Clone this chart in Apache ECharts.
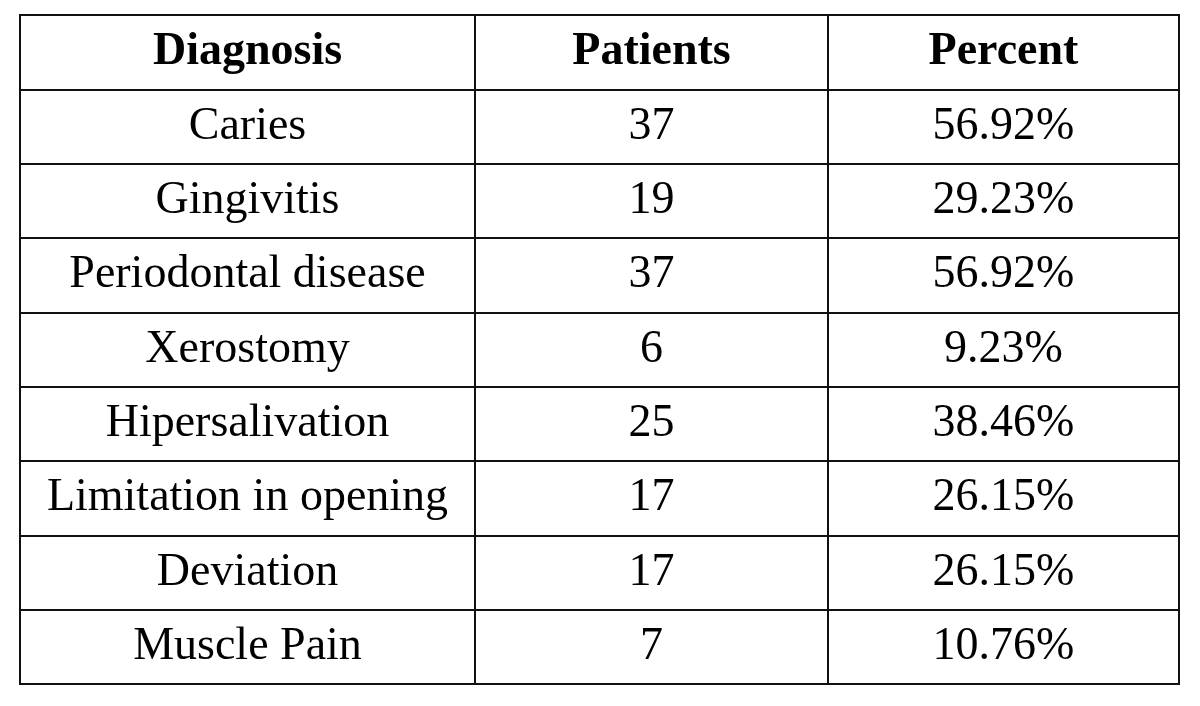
<!DOCTYPE html>
<html>
<head>
<meta charset="utf-8">
<style>
  html, body { margin: 0; padding: 0; background: #fff; }
  #chart { width: 1200px; height: 706px; }
</style>
<script src="https://cdn.jsdelivr.net/npm/echarts@6/dist/echarts.min.js"></script>
</head>
<body>
<div id="chart"></div>
<script>
const columns = ['Diagnosis', 'Patients', 'Percent'];
const diagnoses = ['Caries', 'Gingivitis', 'Periodontal disease', 'Xerostomy', 'Hipersalivation', 'Limitation in opening', 'Deviation', 'Muscle Pain'];
const patients = [37, 19, 37, 6, 25, 17, 17, 7];
const percents = [56.92, 29.23, 56.92, 9.23, 38.46, 26.15, 26.15, 10.76];

const columnTexts = [
  diagnoses,
  patients.map(String),
  percents.map(p => p.toFixed(2) + '%')
];
const rowKeys = ['header'].concat(diagnoses);

const gridLayout = [
  { left: 20, width: 455 },
  { left: 475, width: 353 },
  { left: 828, width: 351 }
];
const lineColor = '#111111';

const chart = echarts.init(document.getElementById('chart'));
const option = {
  animation: false,
  backgroundColor: '#ffffff',
  grid: gridLayout.map(g => ({
    left: g.left, width: g.width, top: 15, height: 669,
    show: true, borderColor: lineColor, borderWidth: 2, backgroundColor: 'transparent'
  })),
  xAxis: columns.map((c, i) => ({
    type: 'category', gridIndex: i, data: [c], show: false
  })),
  yAxis: columns.map((c, i) => ({
    type: 'category', gridIndex: i, data: rowKeys, inverse: true, boundaryGap: true,
    axisLine: { show: false }, axisTick: { show: false }, axisLabel: { show: false },
    splitLine: { show: true, interval: 0, lineStyle: { color: lineColor, width: 2 } }
  })),
  series: columns.map((c, i) => ({
    type: 'scatter',
    xAxisIndex: i, yAxisIndex: i,
    silent: true,
    symbolSize: 1,
    itemStyle: { color: 'rgba(0,0,0,0)' },
    label: {
      show: true, position: 'inside',
      fontFamily: '"Liberation Serif", "Times New Roman", serif',
      fontSize: 46, color: '#000000', opacity: 1,
      textBorderWidth: 0, textBorderColor: 'transparent',
      formatter: p => p.name
    },
    data: [{ value: [0, 0], name: c, label: { fontWeight: 'bold' } }]
      .concat(columnTexts[i].map((t, r) => ({ value: [0, r + 1], name: t })))
  }))
};
chart.setOption(option);
</script>
</body>
</html>
